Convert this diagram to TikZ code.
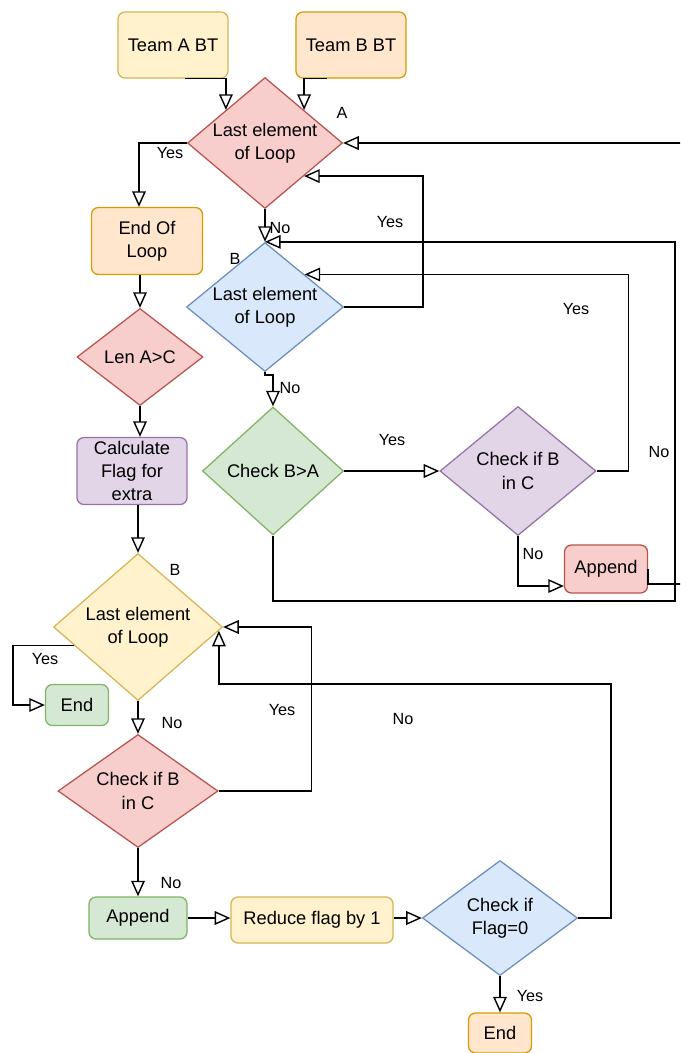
\documentclass[tikz,border=0pt]{standalone}
\usepackage{fontspec}
\setmainfont{Liberation Sans}
\usetikzlibrary{shapes.geometric,arrows.meta,calc}

\definecolor{yelf}{HTML}{FFF2CC}\definecolor{yeld}{HTML}{D6B656}
\definecolor{oraf}{HTML}{FFE6CC}\definecolor{orad}{HTML}{D79B00}
\definecolor{redf}{HTML}{F8CECC}\definecolor{redd}{HTML}{B85450}
\definecolor{bluf}{HTML}{DAE8FC}\definecolor{blud}{HTML}{6C8EBF}
\definecolor{grnf}{HTML}{D5E8D4}\definecolor{grnd}{HTML}{82B366}
\definecolor{purf}{HTML}{E1D5E7}\definecolor{purd}{HTML}{9673A6}

\begin{document}
\begin{tikzpicture}[x=0.025cm, y=-0.025cm,
  box/.style={rectangle, rounded corners=5pt, line width=0.9pt, align=center, inner sep=1pt, font=\fontsize{13}{16.5}\selectfont},
  dec/.style={diamond, line width=0.9pt, inner sep=0pt},
  dtxt/.style={align=center, font=\fontsize{13}{16.5}\selectfont},
  lbl/.style={font=\fontsize{11.5}{13}\selectfont},
  flow/.style={line width=1pt, -{Triangle[open,length=3.9mm,width=3.4mm]}},
  yel/.style={fill=yelf, draw=yeld}, ora/.style={fill=oraf, draw=orad},
  red/.style={fill=redf, draw=redd}, blu/.style={fill=bluf, draw=blud},
  grn/.style={fill=grnf, draw=grnd}, pur/.style={fill=purf, draw=purd}]
\path[use as bounding box, fill=white] (0,0) rectangle (680,1053);
\clip (0,0) rectangle (680,1053);

% first loop
\node[box, yel, minimum width=2.75cm, minimum height=1.65cm] (teamA) at (173,45) {Team A BT};
\node[box, ora, minimum width=2.75cm, minimum height=1.65cm] (teamB) at (351,45) {Team B BT};
\node[dec, red, minimum width=3.875cm, minimum height=3.275cm, label={[dtxt]center:{Last element\\of Loop}}] (lastA) at (265,143) {};
\node[box, ora, minimum width=2.775cm, minimum height=1.675cm] (endLoop) at (147,241) {End Of\\Loop};
\node[dec, blu, minimum width=3.925cm, minimum height=3.225cm, label={[dtxt]center:{Last element\\of Loop}}] (lastB) at (265,307) {};
\node[dec, grn, minimum width=3.525cm, minimum height=3.2cm, label={[dtxt]center:{Check B>A}}] (checkBA) at (273,471) {};
\node[dec, pur, minimum width=3.9cm, minimum height=3.225cm, label={[dtxt]center:{Check if B\\in C}}] (checkBC) at (518,471) {};
\node[box, red, minimum width=2.075cm, minimum height=1.2cm] (appendR) at (606,569) {Append};

% extra part
\node[dec, red, minimum width=3.15cm, minimum height=2.425cm, label={[dtxt]center:{Len A>C}}] (lenAC) at (140,357) {};
\node[box, pur, minimum width=2.75cm, minimum height=1.675cm] (calcFlag) at (132,471) {Calculate\\Flag for\\extra};
\node[dec, yel, minimum width=4.225cm, minimum height=3.675cm, label={[dtxt]center:{Last element\\of Loop}}] (lastY) at (138,627) {};
\node[box, grn, minimum width=1.575cm, minimum height=1.025cm] (endG) at (77,705) {End};
\node[dec, red, minimum width=4cm, minimum height=2.825cm, label={[dtxt]center:{Check if B\\in C}}] (checkBC2) at (138,791) {};
\node[box, grn, minimum width=2.45cm, minimum height=1.05cm] (appendG) at (138,918) {Append};
\node[box, yel, minimum width=4.05cm, minimum height=1.15cm] (reduce) at (312,920) {Reduce flag by 1};
\node[dec, blu, minimum width=3.875cm, minimum height=2.875cm, label={[dtxt]center:{Check if\\Flag=0}}] (checkFlag) at (500,918) {};
\node[box, ora, minimum width=1.575cm, minimum height=1cm] (endO) at (500,1033) {End};

\coordinate (loopR) at (675,601);

\draw[flow] ([xshift=0.3cm]teamA.south) -| ($(lastA.north)!0.5!(lastA.west)$);
\draw[flow] ([xshift=-0.6cm]teamB.south) -| ($(lastA.north)!0.5!(lastA.east)$);
\draw[flow] (lastA.west) -| ([xshift=-0.2cm]endLoop.north);
\draw[flow] (lastA.south) -- (lastB.north);
\draw[flow] (lastB.east) -- ++(79,0) |- ($(lastA.east)!0.5!(lastA.south)$);
\draw[flow] (lastB.south) -- ++(0,3) -| (checkBA.north);
\draw[flow] (checkBA.east) -- (checkBC.west);
\draw[flow] (checkBC.east) -- ++(32,0) |- ($(lastB.north)!0.5!(lastB.east)$);
\draw[flow] (checkBC.south) |- ([yshift=-0.425cm]appendR.west);
\draw[flow] (checkBA.south) |- (loopR) |- (lastB.north);
\draw[flow] (appendR.east) -- ++(0,15) -- (700,584) |- (lastA.east);

\draw[flow] (endLoop.south -| lenAC.north) -- (lenAC.north);
\draw[flow] (lenAC.south) -- (lenAC.south |- calcFlag.north);
\draw[flow] (calcFlag.south -| lastY.north) -- (lastY.north);
\draw[flow] ($(lastY.west)!0.25!(lastY.south)$) -- ++(-61,0) |- (endG.west);
\draw[flow] (lastY.south) -- (checkBC2.north);
\draw[flow] (checkBC2.east) -- ++(93,0) |- (lastY.east);
\draw[flow] (checkBC2.south) -- (appendG.north);
\draw[flow] (appendG.east) -- (appendG.east -| reduce.west);
\draw[flow] (reduce.east |- checkFlag.west) -- (checkFlag.west);
\draw[flow] (checkFlag.east) -| ++(33,-234) -| ($(lastY.east)!0.05!(lastY.south)$);
\draw[flow] (checkFlag.south) -- (endO.north);

% labels
\node[lbl] (tagA) at (342,113) {A};
\node[lbl] (tagB) at (235,259) {B};
\node[lbl] (tagB2) at (175,570) {B};
\node[lbl] (yes1) at (170,153) {Yes};
\node[lbl] (no1) at (280,228) {No};
\node[lbl] (yes2) at (390,222) {Yes};
\node[lbl] (no2) at (290,388) {No};
\node[lbl] (yes3) at (392,440) {Yes};
\node[lbl] (yes4) at (576,309) {Yes};
\node[lbl] (no3) at (659,452) {No};
\node[lbl] (no4) at (533,554) {No};
\node[lbl] (yes5) at (45,659) {Yes};
\node[lbl] (no5) at (172,723) {No};
\node[lbl] (yes6) at (282,710) {Yes};
\node[lbl] (no6) at (403,719) {No};
\node[lbl] (no7) at (171,883) {No};
\node[lbl] (yes7) at (530,996) {Yes};
\end{tikzpicture}
\end{document}
